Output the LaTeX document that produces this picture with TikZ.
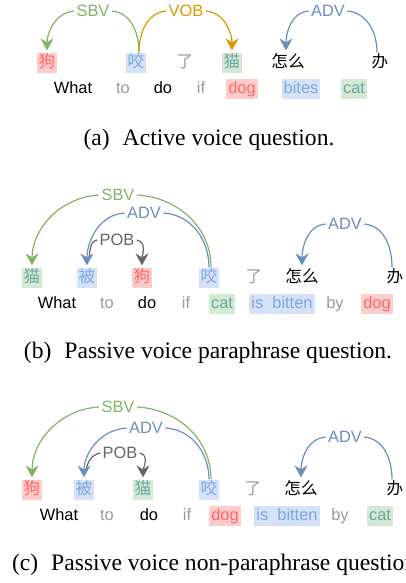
\documentclass[tikz,border=0pt]{standalone}
\usepackage{fontspec}
\setmainfont{Liberation Serif}
\setsansfont{Liberation Sans}
\newfontfamily\cjk{Noto Sans CJK SC}
\usetikzlibrary{arrows.meta,calc}

\definecolor{redfill}{HTML}{FFCCCC}
\definecolor{redtext}{HTML}{FF6666}
\definecolor{bluefill}{HTML}{D4E1F7}
\definecolor{bluetext}{HTML}{7EA6E0}
\definecolor{greenfill}{HTML}{D5E8D4}
\definecolor{greentext}{HTML}{67AB9F}
\definecolor{fainttext}{HTML}{999999}
\definecolor{sbvcol}{HTML}{82B366}
\definecolor{vobcol}{HTML}{D79B00}
\definecolor{advcol}{HTML}{6C8EBF}
\definecolor{pobcol}{HTML}{666666}

\tikzset{
  word/.style={inner xsep=1pt, inner ysep=1pt, text height=6.4pt, text depth=1.8pt},
  cn/.style={word, font=\cjk\fontsize{8.3}{9}\selectfont},
  en/.style={word, font=\sffamily\fontsize{8.2}{9}\selectfont},
  plain/.style={},
  faint/.style={text=fainttext},
  redbox/.style={fill=redfill, text=redtext},
  bluebox/.style={fill=bluefill, text=bluetext},
  greenbox/.style={fill=greenfill, text=greentext},
  rel/.style={fill=white, inner sep=1pt, font=\sffamily\fontsize{8.2}{9}\selectfont},
  arc/.style={line width=0.6pt},
  tip/.style={-{Stealth[length=6pt,width=6.5pt,inset=2pt]}, shorten >=1pt},
  caption/.style={font=\fontsize{11.8}{13}\selectfont}
}

\begin{document}
\begin{tikzpicture}[x=0.5pt, y=-0.5pt]
  \useasboundingbox (0,0) rectangle (406,583);

  % (a) active voice
  \foreach \t/\x/\s [count=\i] in {狗/47/redbox, 咬/136/bluebox, 了/185/faint, 猫/232/greenbox, 怎么/288/plain, 办/380/plain}
    \node[cn,\s] (a\i) at (\x,63) {\t};
  \foreach \t/\x/\s [count=\i] in {What/73/plain, to/123/faint, do/163/plain, if/201/faint, dog/242/redbox, bites/301/bluebox, cat/354/greenbox}
    \node[en,\s] (aw\i) at (\x,89) {\t};
  \node[rel, text=sbvcol] (asbv) at (93,11) {SBV};
  \node[rel, text=vobcol] (avob) at (186,11) {VOB};
  \node[rel, text=advcol] (aadv) at (328,11) {ADV};
  \draw[arc, sbvcol] ($(a2.north)+(3,0)$) to[out=90, in=-5] (asbv.east);
  \draw[arc, sbvcol, tip] (asbv.west) to[out=185, in=90] (a1.north);
  \draw[arc, vobcol] ($(a2.north)+(3,0)$) to[out=90, in=185] (avob.west);
  \draw[arc, vobcol, tip] (avob.east) to[out=-5, in=90] (a4.north);
  \draw[arc, advcol] ($(a6.north)+(-3,0)$) to[out=90, in=-5] (aadv.east);
  \draw[arc, advcol, tip] (aadv.west) to[out=185, in=90] ($(a5.north)+(-2,0)$);
  \node[caption] (capa) at (209,140) {(a)\hspace{0.55em}Active voice question.};

  % (b) passive voice paraphrase
  \foreach \t/\x/\s [count=\i] in {猫/32/greenbox, 被/87/bluebox, 狗/142/redbox, 咬/209/bluebox, 了/254/faint, 怎么/302/plain, 办/395/plain}
    \node[cn,\s] (b\i) at (\x,278) {\t};
  \foreach \t/\x/\s [count=\i] in {What/57/plain, to/107/faint, do/147/plain, if/186/faint, cat/222/greenbox, is\ \ bitten/282/bluebox, by/335/faint, dog/377/redbox}
    \node[en,\s] (bw\i) at (\x,304) {\t};
  \node[rel, text=sbvcol] (bsbv) at (118,195) {SBV};
  \node[rel, text=advcol] (badv) at (144,213) {ADV};
  \node[rel, text=pobcol] (bpob) at (117,240) {POB};
  \node[rel, text=advcol] (badvr) at (345,224) {ADV};
  \draw[arc, sbvcol] ($(b4.north)+(2,0)$) to[out=90, in=-3] (bsbv.east);
  \draw[arc, sbvcol, tip] (bsbv.west) to[out=183, in=90] (b1.north);
  \draw[arc, advcol] (b4.north) to[out=90, in=-3] (badv.east);
  \draw[arc, pobcol, tip] (bpob.east) to[out=-10, in=90] (b3.north);
  \draw[arc, pobcol] ($(b2.north)+(2,-9)$) to[out=80, in=190] (bpob.west);
  \draw[arc, advcol, tip] (badv.west) to[out=183, in=90] (b2.north);
  \draw[arc, advcol] ($(b7.north)+(-3,0)$) to[out=90, in=-5] (badvr.east);
  \draw[arc, advcol, tip] (badvr.west) to[out=185, in=90] (b6.north);
  \node[caption] (capb) at (208,353) {(b)\hspace{0.55em}Passive voice paraphrase question.};

  % (c) passive voice non-paraphrase
  \foreach \t/\x/\s [count=\i] in {狗/32/redbox, 被/84/bluebox, 猫/143/greenbox, 咬/209/bluebox, 了/253/faint, 怎么/301/plain, 办/395/plain}
    \node[cn,\s] (c\i) at (\x,490) {\t};
  \foreach \t/\x/\s [count=\i] in {What/59/plain, to/107/faint, do/149/plain, if/187/faint, dog/225/redbox, is\ \ bitten/287/bluebox, by/340/faint, cat/380/greenbox}
    \node[en,\s] (cw\i) at (\x,516) {\t};
  \node[rel, text=sbvcol] (csbv) at (118,407) {SBV};
  \node[rel, text=advcol] (cadv) at (146,428) {ADV};
  \node[rel, text=pobcol] (cpob) at (120,453) {POB};
  \node[rel, text=advcol] (cadvr) at (345,437) {ADV};
  \draw[arc, sbvcol] ($(c4.north)+(2,0)$) to[out=90, in=-3] (csbv.east);
  \draw[arc, sbvcol, tip] (csbv.west) to[out=183, in=90] (c1.north);
  \draw[arc, advcol] (c4.north) to[out=90, in=-3] (cadv.east);
  \draw[arc, pobcol, tip] (cpob.east) to[out=-10, in=90] (c3.north);
  \draw[arc, pobcol] ($(c2.north)+(2,-9)$) to[out=80, in=190] (cpob.west);
  \draw[arc, advcol, tip] (cadv.west) to[out=183, in=90] (c2.north);
  \draw[arc, advcol] ($(c7.north)+(-3,0)$) to[out=90, in=-5] (cadvr.east);
  \draw[arc, advcol, tip] (cadvr.west) to[out=185, in=90] (c6.north);
  \node[caption, anchor=west] (capc) at (5,565) {(c)\hspace{0.55em}Passive voice non-paraphrase question.};
\end{tikzpicture}
\end{document}
